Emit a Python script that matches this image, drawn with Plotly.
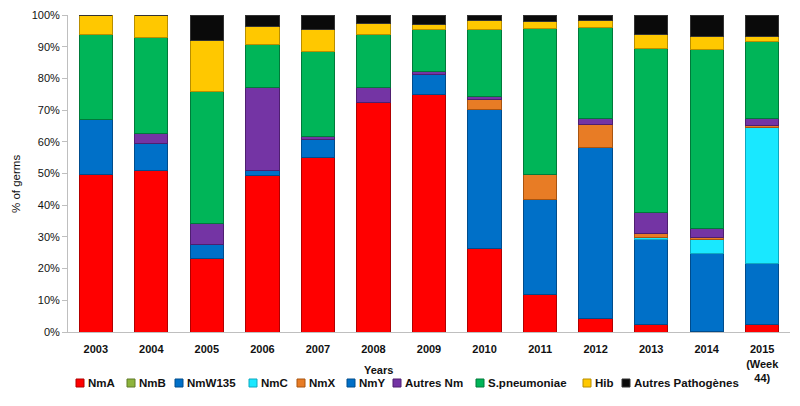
import plotly.graph_objects as go

years = ["2003", "2004", "2005", "2006", "2007", "2008", "2009", "2010",
         "2011", "2012", "2013", "2014", "2015<br>(Week<br>44)"]

series_names = ["NmA", "NmB", "NmW135", "NmC", "NmX", "NmY", "Autres Nm",
                "S.pneumoniae", "Hib", "Autres Pathogènes"]

NmA = [49.6, 50.9, 23.1, 49.3, 55.1, 72.4, 74.8, 26.2, 11.8, 4.4, 2.3, 0.3, 2.5]
NmB = [0, 0, 0, 0, 0, 0, 0, 0, 0, 0, 0, 0, 0]
NmW135 = [17.3, 8.7, 4.4, 1.8, 5.7, 0, 6.4, 43.9, 29.9, 53.9, 26.8, 24.6, 19.0]
NmC = [0, 0, 0, 0, 0, 0, 0, 0, 0, 0, 0.8, 4.2, 43.0]
NmX = [0, 0, 0, 0, 0, 0, 0, 3.4, 7.9, 7.3, 1.3, 0.7, 0.6]
NmY = [0, 0, 0, 0, 0, 0, 0, 0, 0, 0, 0, 0, 0]
AutresNm = [0, 2.9, 6.8, 26.0, 0.8, 4.8, 1.1, 0.8, 0, 1.8, 6.5, 3.0, 2.1]
Spneumo = [26.9, 30.5, 41.5, 13.7, 27.0, 16.8, 13.2, 21.2, 46.0, 28.7, 51.6, 56.2, 24.5]
Hib = [6.2, 7.0, 16.1, 5.5, 6.7, 3.2, 1.5, 2.7, 2.3, 2.3, 4.4, 4.3, 1.4]
AutresPath = [0, 0, 8.1, 3.7, 4.7, 2.8, 3.0, 1.8, 2.1, 1.6, 6.3, 6.7, 6.9]

values = [NmA, NmB, NmW135, NmC, NmX, NmY, AutresNm, Spneumo, Hib, AutresPath]
colors = ["#FF0000", "#8DB43C", "#0070C8", "#19E8FF", "#E87C25", "#0070C8",
          "#7434A4", "#00B558", "#FFC800", "#0A0A0A"]
edges = ["#B00000", "#5E7A28", "#004C8C", "#0FA8C0", "#A85410", "#004C8C",
         "#4E1F70", "#007A3A", "#B88E00", "#333333"]

# the page body has an 8px margin; work in figure pixels = page pixels - 8
OFF = 8
legend_px = [76, 127, 175, 249, 297, 347, 393, 476, 583, 622]

W, H = 792, 398
L, R, T, B = 60, 10, 7, 74
pw, ph = W - L - R, H - T - B

def px_to_xp(px):
    return (px - OFF - L) / pw

def py_to_yp(py):
    return (H - B - (py - OFF)) / ph

fig = go.Figure()
for name, vals, c, e in zip(series_names, values, colors, edges):
    fig.add_trace(go.Bar(
        x=years, y=vals, name=name, showlegend=False,
        marker=dict(color=c, line=dict(color=e, width=1)),
    ))

font_family = "Liberation Sans, Arial, sans-serif"

shapes = []
annotations = [
    dict(text="<b>Years</b>", x=px_to_xp(378), y=py_to_yp(370),
         xref="paper", yref="paper", xanchor="center", yanchor="middle",
         showarrow=False, font=dict(size=11, family=font_family, color="#111111")),
    dict(text="% of germs", x=px_to_xp(16), y=py_to_yp(184),
         xref="paper", yref="paper", xanchor="center", yanchor="middle",
         textangle=-90, showarrow=False,
         font=dict(size=11.5, family=font_family, color="#111111")),
]
ly = 383
for name, c, e, lx in zip(series_names, colors, edges, legend_px):
    shapes.append(dict(type="rect", xref="paper", yref="paper",
                       x0=px_to_xp(lx), x1=px_to_xp(lx + 8),
                       y0=py_to_yp(ly + 4), y1=py_to_yp(ly - 4),
                       fillcolor=c, line=dict(color=e, width=1)))
    annotations.append(dict(text="<b>" + name + "</b>", x=px_to_xp(lx + 10),
                            y=py_to_yp(ly), xref="paper", yref="paper",
                            xanchor="left", yanchor="middle", showarrow=False,
                            font=dict(size=11.5, family=font_family, color="#111111")))

fig.update_layout(
    barmode="stack",
    bargap=0.4,
    width=W, height=H,
    margin=dict(l=L, r=R, t=T, b=B),
    plot_bgcolor="white", paper_bgcolor="white",
    font=dict(family=font_family, size=11, color="#222222"),
    showlegend=False,
    xaxis=dict(showline=True, linecolor="#BFBFBF", linewidth=1, ticks="",
               tickfont=dict(size=11, family=font_family, color="#111111"),
               tickprefix="<b>", ticksuffix="</b>", ticklabelstandoff=7,
               automargin=False, fixedrange=True),
    yaxis=dict(range=[0, 100], dtick=10, ticksuffix="%", showgrid=False,
               showline=True, linecolor="#BFBFBF", linewidth=1,
               ticks="outside", ticklen=5, tickcolor="#BFBFBF",
               tickfont=dict(size=11, family=font_family, color="#111111"),
               zeroline=False, automargin=False),
    shapes=shapes,
    annotations=annotations,
)

fig.write_html("out.html")
